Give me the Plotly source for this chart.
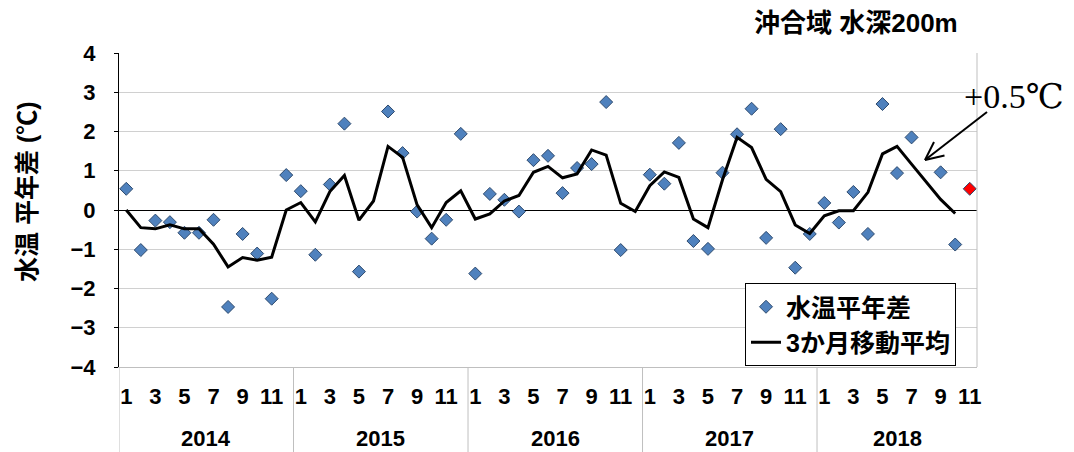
import plotly.graph_objects as go

# ---- data ----
years = ["2014", "2015", "2016", "2017", "2018"]
months_per_year = [12, 12, 12, 12, 11]
month_tick_labels = ["1", "3", "5", "7", "9", "11"]

anomaly = [
    0.54, -1.02, -0.27, -0.31, -0.58, -0.58, -0.25, -2.47, -0.61, -1.11, -2.26, 0.89,
    0.48, -1.14, 0.65, 2.20, -1.57, None, 2.51, 1.45, -0.04, -0.73, -0.25, 1.94,
    -1.62, 0.41, 0.26, -0.04, 1.27, 1.38, 0.43, 1.07, 1.17, 2.75, -1.02, None,
    0.90, 0.67, 1.71, -0.79, -0.99, 0.95, 1.93, 2.58, -0.71, 2.06, -1.47, -0.61,
    0.18, -0.32, 0.46, -0.61, 2.70, 0.94, 1.85, None, 0.96, -0.88, 0.54,
]
moving_avg = [
    0.00, -0.45, -0.48, -0.38, -0.48, -0.48, -0.87, -1.45, -1.21, -1.28, -1.20, 0.00,
    0.19, -0.30, 0.47, 0.88, -0.26, 0.23, 1.62, 1.34, 0.13, -0.45, 0.19, 0.49,
    -0.23, -0.10, 0.23, 0.37, 0.96, 1.11, 0.82, 0.92, 1.53, 1.40, 0.17, -0.04,
    0.62, 0.97, 0.83, -0.23, -0.45, 0.77, 1.85, 1.59, 0.78, 0.47, -0.38, -0.60,
    -0.15, -0.02, -0.02, 0.45, 1.43, 1.62, 1.17, 0.72, 0.27, -0.09, None,
]
y_ticks = [4, 3, 2, 1, 0, -1, -2, -3, -4]

# ---- derived positions ----
n = sum(months_per_year)
x_idx = list(range(n))
tickvals, ticktext = [], []
start = 0
year_bounds = []
for yr, m in zip(years, months_per_year):
    for k in range(m):
        if k % 2 == 0:
            tickvals.append(start + k)
            ticktext.append(month_tick_labels[k // 2])
    year_bounds.append((start - 0.5, start + m - 0.5))
    start += m
marker_colors = ["#4F81BD"] * n
marker_colors[-1] = "#FF0000"

# page has an 8px body margin: figure is drawn from (8,8)
OFF = 8
W, H = 1074 - OFF, 452 - OFF
L, T = 119 - OFF, 53 - OFF
pw, ph = 858, 314
R, B = W - L - pw, H - T - ph


def px2paper(px, py):
    # px, py are page pixel coordinates
    return (px - OFF - L) / pw, (T + ph - (py - OFF)) / ph


JP = "Liberation Sans, Arial, Noto Sans CJK JP"
fig = go.Figure()
fig.add_trace(go.Scatter(
    x=x_idx, y=anomaly, mode="markers", name="水温平年差",
    marker=dict(symbol="diamond", size=10, color=marker_colors,
                line=dict(color="#2F4B6E", width=1)),
))
fig.add_trace(go.Scatter(
    x=x_idx, y=moving_avg, mode="lines", name="3か月移動平均",
    line=dict(color="black", width=3), connectgaps=False,
))

shapes = []
for b0, _ in year_bounds:
    shapes.append(dict(type="line", xref="x", yref="paper", x0=b0, x1=b0,
                       y0=0, y1=-0.3, line=dict(color="#BFBFBF", width=1)))
shapes.append(dict(type="line", xref="paper", yref="paper", x0=1, x1=1, y0=0, y1=1,
                   line=dict(color="#BFBFBF", width=1)))
# arrow for the "+0.5℃" note
hx, hy = px2paper(925, 160)
tx, ty = px2paper(987, 112)
a1x, a1y = px2paper(944.5, 155.6)
a2x, a2y = px2paper(934, 142)
for (x0, y0, x1, y1) in [(tx, ty, hx, hy), (hx, hy, a1x, a1y), (hx, hy, a2x, a2y)]:
    shapes.append(dict(type="line", xref="paper", yref="paper", x0=x0, y0=y0, x1=x1, y1=y1,
                       line=dict(color="black", width=2)))

annotations = []
ylab = px2paper(0, 438)[1]
for yr, (b0, b1) in zip(years, year_bounds):
    mid = (b0 + b1) / 2 if yr != years[-1] else (b0 + n - 0.5) / 2
    annotations.append(dict(text="<b>" + yr + "</b>", x=mid, xref="x", y=ylab, yref="paper",
                            showarrow=False, font=dict(family=JP, size=22, color="black"),
                            xanchor="center", yanchor="middle"))
tpx, tpy = px2paper(856, 23)
annotations.append(dict(text="<b>沖合域 水深200m</b>", x=tpx, y=tpy,
                        xref="paper", yref="paper", showarrow=False,
                        font=dict(family=JP, size=26, color="black"),
                        xanchor="center", yanchor="middle"))
npx, npy = px2paper(1014, 96)
annotations.append(dict(text="+0.5℃", x=npx, y=npy,
                        xref="paper", yref="paper", showarrow=False,
                        font=dict(family="Liberation Serif, DejaVu Serif, Noto Sans CJK JP", size=34, color="black"),
                        xanchor="center", yanchor="middle"))
ytx, yty = px2paper(27, 192)
annotations.append(dict(text="<b>水温 平年差 (℃)</b>", x=ytx, y=yty, xref="paper", yref="paper",
                        showarrow=False, textangle=-90,
                        font=dict(family=JP, size=25, color="black"),
                        xanchor="center", yanchor="middle"))

lgx, lgy = px2paper(745, 283)
fig.update_layout(
    width=W, height=H,
    margin=dict(l=L, r=R, t=T, b=B, autoexpand=False),
    plot_bgcolor="white", paper_bgcolor="white",
    font=dict(family=JP, color="black"),
    showlegend=True,
    legend=dict(x=lgx, y=lgy, xanchor="left", yanchor="top",
                bgcolor="white", bordercolor="black", borderwidth=1,
                font=dict(family=JP, size=25, color="black", weight="bold"),
                tracegroupgap=0, itemwidth=30),
    shapes=shapes,
    annotations=annotations,
    xaxis=dict(range=[-0.5, n - 0.5], tickvals=tickvals, ticktext=ticktext,
               showgrid=False, zeroline=False, showline=True, linecolor="#BFBFBF",
               ticks="", tickfont=dict(family=JP, size=22, color="black", weight="bold"),
               ticklabelstandoff=10),
    yaxis=dict(range=[-4, 4], tickvals=y_ticks, showgrid=True, gridcolor="#D0D0D0", gridwidth=1,
               zeroline=True, zerolinecolor="black", zerolinewidth=1,
               showline=True, linecolor="black", linewidth=1, ticks="outside", ticklen=4,
               tickcolor="black", tickfont=dict(family=JP, size=22, color="black", weight="bold"),
               ticklabelstandoff=14),
)
fig.write_html("out.html")
